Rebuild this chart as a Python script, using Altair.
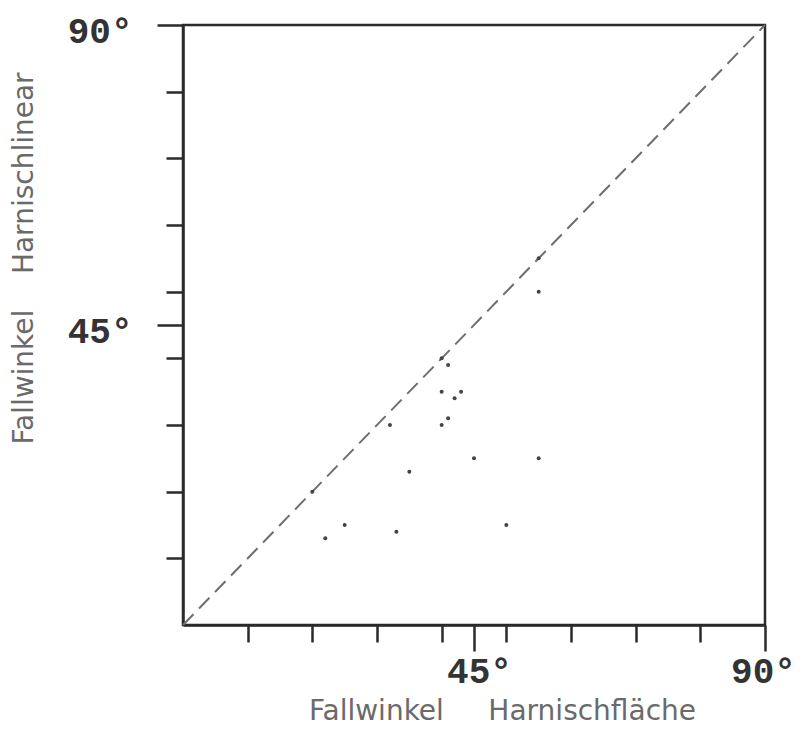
import altair as alt
import pandas as pd

# Fallwinkel Harnischfläche (x) vs. Fallwinkel Harnischlinear (y), degrees
fall_flaeche = [22, 25, 33, 50, 35, 32, 45, 55, 40, 41, 40, 42, 43, 41, 55, 20, 40, 55]
fall_linear = [13, 15, 14, 15, 23, 30, 25, 25, 30, 31, 35, 34, 35, 39, 50, 20, 40, 55]

diag_x = [0, 90]
diag_y = [0, 90]

tick_values = [10, 20, 30, 40, 45, 50, 60, 70, 80, 90]
label_values = [45, 90]

x_title = "Fallwinkel\u00a0\u00a0\u00a0\u00a0\u00a0Harnischfläche"
y_title = "Fallwinkel\u00a0\u00a0\u00a0\u00a0Harnischlinear"

pts = pd.DataFrame({"x": fall_flaeche, "y": fall_linear})
diag = pd.DataFrame({"x": diag_x, "y": diag_y})

lab_test = " || ".join(f"datum.value == {v}" for v in label_values)
label_expr = f"({lab_test}) ? datum.value + '°' : ''"
tick_size = {"condition": {"test": lab_test, "value": 26}, "value": 17}

common_axis = dict(
    values=tick_values,
    labelExpr=label_expr,
    tickSize=tick_size,
    tickColor="#2a2a2a",
    tickWidth=2.5,
    domainColor="#2a2a2a",
    domainWidth=2.5,
    grid=False,
    labelFont="Liberation Mono",
    labelFontWeight="bold",
    labelFontSize=36,
    labelColor="#333333",
    titleFont="DejaVu Sans",
    titleFontWeight="normal",
    titleFontSize=28,
    titleColor="#6a6a6a",
    labelOverlap=False,
    labelFlush=False,
)

x_axis = alt.Axis(
    title=x_title,
    labelAlign="center",
    labelBaseline="alphabetic",
    labelOffset={"condition": {"test": "datum.value == 90", "value": -2}, "value": 5},
    labelPadding=31,
    titleX=319,
    titleY=94,
    titleAlign="center",
    titleBaseline="alphabetic",
    **common_axis,
)

y_axis = alt.Axis(
    title=y_title,
    labelAlign="right",
    labelBaseline="alphabetic",
    labelOffset=17,
    labelPadding=25,
    titleX=-151,
    titleY=233,
    titleAngle=270,
    titleAlign="center",
    titleBaseline="alphabetic",
    **common_axis,
)

x_enc = alt.X("x:Q", scale=alt.Scale(domain=[0, 90], nice=False), axis=x_axis)
y_enc = alt.Y("y:Q", scale=alt.Scale(domain=[0, 90], nice=False), axis=y_axis)

line = alt.Chart(diag).mark_line(
    color="#6e6e6e", strokeWidth=2, strokeDash=[15, 8]
).encode(x=x_enc, y=y_enc)

points = alt.Chart(pts).mark_circle(
    size=16, color="#444444", opacity=1
).encode(x=x_enc, y=y_enc)

chart = alt.layer(line, points).properties(
    width=582,
    height=600,
    autosize=alt.AutoSizeParams(type="none"),
    padding={"left": 175, "top": 17, "right": 33, "bottom": 103},
    background="white",
).configure_view(stroke="#2a2a2a", strokeWidth=2.5)

chart.save("out.html", embed_options={"renderer": "svg", "actions": False})
